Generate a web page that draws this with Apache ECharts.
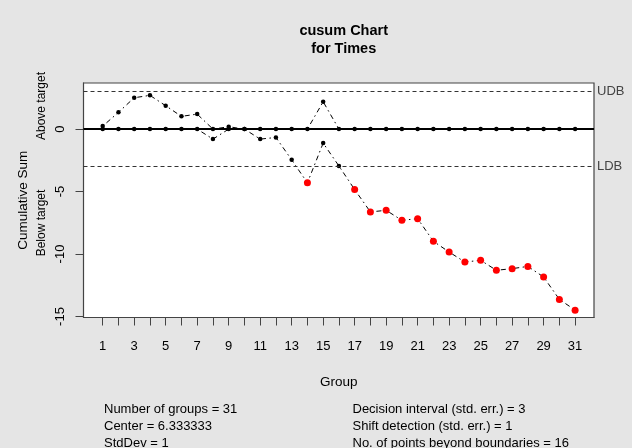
<!DOCTYPE html>
<html>
<head>
<meta charset="utf-8">
<script src="https://cdn.jsdelivr.net/npm/echarts@6/dist/echarts.min.js"></script>
<style>
html,body{margin:0;padding:0;background:#e5e5e5;}
#c{width:632px;height:448px;}
</style>
</head>
<body>
<div id="c"></div>
<script>
const groups = [1,2,3,4,5,6,7,8,9,10,11,12,13,14,15,16,17,18,19,20,21,22,23,24,25,26,27,28,29,30,31];
const upperSum = [0.24,1.34,2.51,2.70,1.87,1.02,1.20,0,0.19,0,0,0,0,0,2.19,0,0,0,0,0,0,0,0,0,0,0,0,0,0,0,0];
const lowerSum = [0,0,0,0,0,0,0,-0.80,0,0,-0.80,-0.67,-2.46,-4.30,-1.12,-2.95,-4.84,-6.63,-6.50,-7.30,-7.17,-8.98,-9.84,-10.64,-10.50,-11.30,-11.17,-10.99,-11.84,-13.63,-14.49];
const xTickLabels = [1,3,5,7,9,11,13,15,17,19,21,23,25,27,29,31];
const yTickLabels = [-15,-10,-5,0];
const UDB = 3, LDB = -3, centerVal = 0;
const statsLeft = ["Number of groups = 31", "Center = 6.333333", "StdDev = 1"];
const statsRight = ["Decision interval (std. err.) = 3", "Shift detection (std. err.) = 1", "No. of points beyond boundaries = 16"];

const FONT = "Liberation Sans, Arial, Helvetica, sans-serif";
const dotdash = [1.5, 3.5, 5, 3.5];

function pointData(vals, isLower) {
  return vals.map((v, i) => {
    const out = (isLower && v < LDB) || (!isLower && v > UDB);
    return {
      value: [groups[i], v],
      symbolSize: out ? 7 : 4.5,
      itemStyle: { color: out ? '#ff0000' : '#000000' }
    };
  });
}

const chart = echarts.init(document.getElementById('c'), null, { renderer: 'canvas' });
const option = {
  backgroundColor: '#e5e5e5',
  animation: false,
  textStyle: { fontFamily: FONT },
  grid: {
    left: 83.5, right: 38, top: 83, bottom: 130.5,
    show: true, backgroundColor: '#ffffff', borderColor: '#444444', borderWidth: 1.2,
    containLabel: false
  },
  xAxis: {
    type: 'value', min: -0.22, max: 32.2,
    name: 'Group', nameLocation: 'middle', nameGap: 58,
    nameTextStyle: { fontSize: 13.5, color: '#000', fontFamily: FONT },
    axisLine: { show: true, onZero: false, lineStyle: { color: '#444', width: 1 } },
    splitLine: { show: false },
    axisTick: { show: true, inside: false, length: 8, lineStyle: { color: '#444', width: 1 }, customValues: groups },
    axisLabel: { show: true, margin: 22, fontSize: 13, color: '#000', fontFamily: FONT, customValues: xTickLabels, showMinLabel: true, showMaxLabel: true }
  },
  yAxis: {
    type: 'value', min: -15.08, max: 3.69,
    name: 'Cumulative Sum', nameLocation: 'middle', nameGap: 53,
    nameTextStyle: { fontSize: 13.5, color: '#000', fontFamily: FONT },
    axisLine: { show: true, onZero: false, lineStyle: { color: '#444', width: 1 } },
    splitLine: { show: false },
    axisTick: { show: true, length: 8, lineStyle: { color: '#444', width: 1 }, customValues: yTickLabels },
    axisLabel: { show: true, rotate: 90, margin: 17, fontSize: 13, color: '#000', fontFamily: FONT, customValues: yTickLabels }
  },
  title: {
    text: 'cusum Chart\nfor Times',
    left: 338.7, top: 17, textAlign: 'center',
    textStyle: { fontSize: 14.5, fontWeight: 'bold', color: '#000', lineHeight: 18, fontFamily: FONT }
  },
  series: [
    {
      type: 'line', name: 'limits', data: [], silent: true,
      markLine: {
        silent: true, symbol: ['none', 'none'],
        data: [
          { yAxis: UDB, name: 'UDB', lineStyle: { type: [4, 3], color: '#333', width: 1 }, label: { show: true, position: 'end', formatter: 'UDB', distance: 3, fontSize: 13, color: '#444', fontFamily: FONT } },
          { yAxis: LDB, name: 'LDB', lineStyle: { type: [4, 3], color: '#333', width: 1 }, label: { show: true, position: 'end', formatter: 'LDB', distance: 3, fontSize: 13, color: '#444', fontFamily: FONT } },
          { yAxis: centerVal, lineStyle: { type: 'solid', color: '#000', width: 2 }, label: { show: false } }
        ]
      }
    },
    {
      type: 'line', name: 'upper', data: pointData(upperSum, false),
      symbol: 'circle', showSymbol: true,
      lineStyle: { color: '#000', width: 1, type: dotdash },
      z: 3
    },
    {
      type: 'line', name: 'lower', data: pointData(lowerSum, true),
      symbol: 'circle', showSymbol: true,
      lineStyle: { color: '#000', width: 1, type: dotdash },
      z: 4
    }
  ],
  graphic: [
    { type: 'text', x: 41.5, y: 106, rotation: Math.PI / 2, style: { text: 'Above target', fontSize: 12, fill: '#000', align: 'center', verticalAlign: 'middle', fontFamily: FONT } },
    { type: 'text', x: 41.5, y: 223, rotation: Math.PI / 2, style: { text: 'Below target', fontSize: 12, fill: '#000', align: 'center', verticalAlign: 'middle', fontFamily: FONT } },
    ...statsLeft.map((t, i) => ({ type: 'text', x: 104, y: 409 + i * 17, style: { text: t, fontSize: 13, fill: '#000', align: 'left', verticalAlign: 'middle', fontFamily: FONT } })),
    ...statsRight.map((t, i) => ({ type: 'text', x: 352.5, y: 409 + i * 17, style: { text: t, fontSize: 13, fill: '#000', align: 'left', verticalAlign: 'middle', fontFamily: FONT } }))
  ]
};
chart.setOption(option);
</script>
</body>
</html>
